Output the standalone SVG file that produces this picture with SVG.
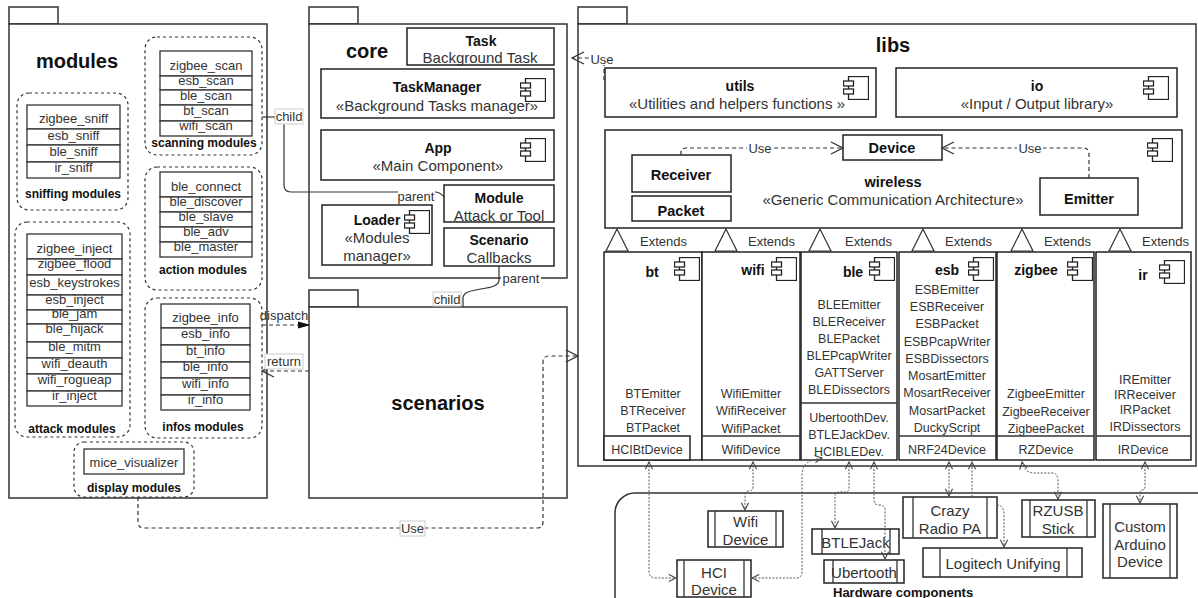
<svg xmlns="http://www.w3.org/2000/svg" xmlns:xlink="http://www.w3.org/1999/xlink" width="1198" height="598" viewBox="0 0 1198 598">
<style>
.pkg{fill:#fff;stroke:#333;stroke-width:1.5}
.box{fill:#fff;stroke:#222;stroke-width:1.5}
.grp{fill:none;stroke:#333;stroke-width:1.2;stroke-dasharray:3 3}
.cell{fill:#fff;stroke:#333;stroke-width:1.3}
.ln{fill:none;stroke:#333;stroke-width:1.3}
.t{font-family:"Liberation Sans",Arial,sans-serif;fill:#333;text-anchor:middle}
.s{text-anchor:start}
.c13{font-size:13px}
.c12{font-size:12.5px}
.c15{font-size:15px}
.b{font-weight:bold;fill:#111}
.b12{font-size:12px}
.b14{font-size:14px}
.b15{font-size:14.5px}
.big{font-size:20px;font-weight:bold;fill:#111}
.lab{fill:#fff;stroke:#ccc;stroke-width:1}
.use{fill:none;stroke:#333;stroke-width:1.2;stroke-dasharray:4 3}
.sol{fill:none;stroke:#333;stroke-width:1.2}
.dot{fill:none;stroke:#555;stroke-width:1;stroke-dasharray:2 1.5}
.hw{fill:#fff;stroke:#222;stroke-width:1.5}
.tri{fill:#fff;stroke:#333;stroke-width:1.2}
</style>
<defs>
<symbol id="comp" viewBox="0 0 26 24" width="26" height="24">
<rect x="5.5" y="0.5" width="20" height="23" fill="#fff" stroke="#222" stroke-width="1.3"/>
<rect x="0.5" y="5" width="10" height="5" fill="#fff" stroke="#222" stroke-width="1.3"/>
<rect x="0.5" y="13" width="10" height="5" fill="#fff" stroke="#222" stroke-width="1.3"/>
</symbol>
<marker id="useA" viewBox="0 0 14 14" refX="13" refY="7" markerWidth="14" markerHeight="14" markerUnits="userSpaceOnUse" orient="auto">
<path d="M1,1 L13,7 L1,13" fill="none" stroke="#333" stroke-width="1.2"/>
</marker>
<marker id="fillA" viewBox="0 0 12 8" refX="11" refY="4" markerWidth="12" markerHeight="8" markerUnits="userSpaceOnUse" orient="auto">
<path d="M0,1 L11,4 L0,7 Z" fill="#111" stroke="#111"/>
</marker>
<marker id="dotA" viewBox="0 0 10 10" refX="9" refY="5" markerWidth="9" markerHeight="9" markerUnits="userSpaceOnUse" orient="auto-start-reverse">
<path d="M1,1 L9,5 L1,9" fill="none" stroke="#444" stroke-width="1.2"/>
</marker>
</defs>

<!-- packages -->
<g id="pkg-modules">
<rect class="pkg" x="9" y="7" width="49" height="17"/>
<rect class="pkg" x="9" y="24" width="258" height="474"/>
<text class="t big" x="77" y="68">modules</text>
</g>
<g id="pkg-core">
<rect class="pkg" x="309" y="7" width="49" height="17"/>
<rect class="pkg" x="309" y="24" width="258" height="254"/>
<text class="t big" x="367" y="58">core</text>
</g>
<g id="pkg-scenarios">
<rect class="pkg" x="309" y="290" width="49" height="17"/>
<rect class="pkg" x="309" y="307" width="258" height="191"/>
<text class="t big" x="438" y="410">scenarios</text>
</g>
<g id="pkg-libs">
<rect class="pkg" x="578" y="7" width="49" height="17"/>
<rect class="pkg" x="578" y="24" width="618" height="442"/>
<text class="t big" x="893" y="52">libs</text>
</g>

<!-- module groups -->
<g id="scanning-modules">
<rect class="grp" x="145" y="37" width="117" height="118" rx="12"/>
<rect class="cell" x="160" y="51" width="92" height="25"/>
<rect class="cell" x="160" y="76" width="92" height="14"/>
<rect class="cell" x="160" y="90" width="92" height="15"/>
<rect class="cell" x="160" y="105" width="92" height="16"/>
<rect class="cell" x="160" y="121" width="92" height="15"/>
<text class="t c13" x="206" y="70">zigbee_scan</text>
<text class="t c13" x="206" y="85">esb_scan</text>
<text class="t c13" x="206" y="100">ble_scan</text>
<text class="t c13" x="206" y="115">bt_scan</text>
<text class="t c13" x="206" y="130">wifi_scan</text>
<text class="t b b12" x="204" y="147">scanning modules</text>
</g>
<g id="sniffing-modules">
<rect class="grp" x="17" y="93" width="111" height="117" rx="12"/>
<rect class="cell" x="27" y="105" width="93" height="24"/>
<rect class="cell" x="27" y="129" width="93" height="16"/>
<rect class="cell" x="27" y="145" width="93" height="17"/>
<rect class="cell" x="27" y="162" width="93" height="16"/>
<text class="t c13" x="73.5" y="123">zigbee_sniff</text>
<text class="t c13" x="73.5" y="140">esb_sniff</text>
<text class="t c13" x="73.5" y="156">ble_sniff</text>
<text class="t c13" x="73.5" y="172">ir_sniff</text>
<text class="t b b12" x="73" y="198">sniffing modules</text>
</g>
<g id="action-modules">
<rect class="grp" x="145" y="167" width="117" height="123" rx="12"/>
<rect class="cell" x="160" y="172" width="92" height="25"/>
<rect class="cell" x="160" y="197" width="92" height="15"/>
<rect class="cell" x="160" y="212" width="92" height="15"/>
<rect class="cell" x="160" y="227" width="92" height="15"/>
<rect class="cell" x="160" y="242" width="92" height="15"/>
<text class="t c13" x="206" y="191">ble_connect</text>
<text class="t c13" x="206" y="206">ble_discover</text>
<text class="t c13" x="206" y="221">ble_slave</text>
<text class="t c13" x="206" y="236">ble_adv</text>
<text class="t c13" x="206" y="251">ble_master</text>
<text class="t b b12" x="203" y="274">action modules</text>
</g>
<g id="attack-modules">
<rect class="grp" x="15" y="222" width="115" height="215" rx="12"/>
<rect class="cell" x="27" y="234" width="95" height="25"/>
<rect class="cell" x="27" y="259" width="95" height="16"/>
<rect class="cell" x="27" y="275" width="95" height="20"/>
<rect class="cell" x="27" y="295" width="95" height="15"/>
<rect class="cell" x="27" y="310" width="95" height="14"/>
<rect class="cell" x="27" y="324" width="95" height="18"/>
<rect class="cell" x="27" y="342" width="95" height="16"/>
<rect class="cell" x="27" y="358" width="95" height="16"/>
<rect class="cell" x="27" y="374" width="95" height="17"/>
<rect class="cell" x="27" y="391" width="95" height="15"/>
<text class="t c13" x="74.5" y="253">zigbee_inject</text>
<text class="t c13" x="74.5" y="268">zigbee_flood</text>
<text class="t c13" x="74.5" y="287">esb_keystrokes</text>
<text class="t c13" x="74.5" y="304">esb_inject</text>
<text class="t c13" x="74.5" y="318">ble_jam</text>
<text class="t c13" x="74.5" y="333">ble_hijack</text>
<text class="t c13" x="74.5" y="351">ble_mitm</text>
<text class="t c13" x="74.5" y="368">wifi_deauth</text>
<text class="t c13" x="74.5" y="384">wifi_rogueap</text>
<text class="t c13" x="74.5" y="400">ir_inject</text>
<text class="t b b12" x="72" y="433">attack modules</text>
</g>
<g id="infos-modules">
<rect class="grp" x="145" y="298" width="117" height="140" rx="12"/>
<rect class="cell" x="161" y="304" width="89" height="24"/>
<rect class="cell" x="161" y="328" width="89" height="17"/>
<rect class="cell" x="161" y="345" width="89" height="17"/>
<rect class="cell" x="161" y="362" width="89" height="16"/>
<rect class="cell" x="161" y="378" width="89" height="17"/>
<rect class="cell" x="161" y="395" width="89" height="15"/>
<text class="t c13" x="205.5" y="322">zigbee_info</text>
<text class="t c13" x="205.5" y="338">esb_info</text>
<text class="t c13" x="205.5" y="355">bt_info</text>
<text class="t c13" x="205.5" y="371">ble_info</text>
<text class="t c13" x="205.5" y="388">wifi_info</text>
<text class="t c13" x="205.5" y="404">ir_info</text>
<text class="t b b12" x="203" y="431">infos modules</text>
</g>
<g id="display-modules">
<rect class="grp" x="74" y="442" width="120" height="55" rx="10"/>
<rect class="cell" x="84" y="449" width="100" height="25"/>
<text class="t c13" x="134" y="467">mice_visualizer</text>
<text class="t b b12" x="134" y="492">display modules</text>
</g>

<!-- core contents -->
<g id="task">
<rect class="box" x="407" y="28" width="147" height="37"/>
<text class="t b b14" x="481" y="46">Task</text>
<text class="t c15" x="480" y="63">Background Task</text>
</g>
<g id="taskmanager">
<rect class="box" x="321" y="69" width="233" height="49"/>
<use href="#comp" x="520" y="78"/>
<text class="t b b14" x="437" y="92">TaskManager</text>
<text class="t c15" x="437" y="111">«Background Tasks manager»</text>
</g>
<g id="app">
<rect class="box" x="321" y="130" width="233" height="50"/>
<use href="#comp" x="520" y="138"/>
<text class="t b b14" x="438" y="153">App</text>
<text class="t c15" x="438" y="171">«Main Component»</text>
</g>
<g id="module">
<rect class="box" x="444" y="185" width="110" height="37"/>
<text class="t b b14" x="499" y="203">Module</text>
<text class="t c15" x="499" y="221">Attack or Tool</text>
</g>
<g id="scenario">
<rect class="box" x="444" y="228" width="110" height="38"/>
<text class="t b b14" x="499" y="245">Scenario</text>
<text class="t c15" x="499" y="263">Callbacks</text>
</g>
<g id="loader">
<rect class="box" x="322" y="205" width="110" height="60" stroke="#555"/>
<use href="#comp" x="404" y="210"/>
<text class="t b b14" x="377" y="225">Loader</text>
<text class="t c15" x="377" y="243">«Modules</text>
<text class="t c15" x="377" y="261">manager»</text>
</g>

<!-- libs contents -->
<g id="utils">
<rect class="box" x="605" y="68" width="271" height="49"/>
<use href="#comp" x="843" y="76"/>
<text class="t b b14" x="740" y="91">utils</text>
<text class="t c15" x="737" y="109">«Utilities and helpers functions »</text>
</g>
<g id="io">
<rect class="box" x="896" y="68" width="281" height="49"/>
<use href="#comp" x="1143" y="76"/>
<text class="t b b14" x="1037" y="91">io</text>
<text class="t c15" x="1037" y="109">«Input / Output library»</text>
</g>
<g id="wireless">
<rect class="box" x="605" y="130" width="577" height="98"/>
<use href="#comp" x="1147" y="138"/>
<text class="t b b15" x="893" y="187">wireless</text>
<text class="t c15" x="893" y="205">«Generic Communication Architecture»</text>
</g>
<g id="receiver">
<rect class="box" x="632" y="155" width="99" height="37"/>
<text class="t b b15" x="681" y="180">Receiver</text>
</g>
<g id="packet">
<rect class="box" x="632" y="196" width="99" height="25"/>
<text class="t b b15" x="681" y="216">Packet</text>
</g>
<g id="device">
<rect class="box" x="843" y="135" width="99" height="25"/>
<text class="t b b15" x="892" y="153">Device</text>
</g>
<g id="emitter">
<rect class="box" x="1040" y="178" width="98" height="37"/>
<text class="t b b15" x="1089" y="204">Emitter</text>
</g>

<g id="bt">
<rect class="box" x="604" y="252" width="98" height="208"/>
<use href="#comp" x="674" y="257"/>
<text class="t b b14" x="652" y="277">bt</text>
<text class="t c12" x="653" y="398">BTEmitter</text>
<text class="t c12" x="653" y="415">BTReceiver</text>
<text class="t c12" x="653" y="432">BTPacket</text>
<rect class="box" x="604" y="436" width="86" height="24"/>
<text class="t c12" x="647" y="454">HCIBtDevice</text>
</g>
<g id="wifi">
<rect class="box" x="702" y="252" width="98" height="208"/>
<use href="#comp" x="771" y="257"/>
<text class="t b b14" x="753" y="275">wifi</text>
<text class="t c12" x="751" y="398">WifiEmitter</text>
<text class="t c12" x="751" y="415">WifiReceiver</text>
<text class="t c12" x="751" y="433">WifiPacket</text>
<line class="ln" x1="702" y1="436" x2="800" y2="436"/>
<text class="t c12" x="751" y="454">WifiDevice</text>
</g>
<g id="ble">
<rect class="box" x="801" y="252" width="96" height="208"/>
<use href="#comp" x="869" y="257"/>
<text class="t b b14" x="853" y="277">ble</text>
<text class="t c12" x="849" y="309">BLEEmitter</text>
<text class="t c12" x="849" y="326">BLEReceiver</text>
<text class="t c12" x="849" y="343">BLEPacket</text>
<text class="t c12" x="849" y="360">BLEPcapWriter</text>
<text class="t c12" x="849" y="377">GATTServer</text>
<text class="t c12" x="849" y="394">BLEDissectors</text>
<line class="ln" x1="801" y1="403" x2="897" y2="403"/>
<text class="t c12" x="849" y="422">UbertoothDev.</text>
<text class="t c12" x="849" y="439">BTLEJackDev.</text>
<text class="t c12" x="849" y="456">HCIBLEDev.</text>
</g>
<g id="esb">
<rect class="box" x="899" y="252" width="97" height="208"/>
<use href="#comp" x="968" y="257"/>
<text class="t b b14" x="947" y="275">esb</text>
<text class="t c12" x="947" y="294">ESBEmitter</text>
<text class="t c12" x="947" y="311">ESBReceiver</text>
<text class="t c12" x="947" y="328">ESBPacket</text>
<text class="t c12" x="947" y="346">ESBPcapWriter</text>
<text class="t c12" x="947" y="363">ESBDissectors</text>
<text class="t c12" x="947" y="380">MosartEmitter</text>
<text class="t c12" x="947" y="397">MosartReceiver</text>
<text class="t c12" x="947" y="415">MosartPacket</text>
<text class="t c12" x="947" y="432">DuckyScript</text>
<line class="ln" x1="899" y1="436" x2="996" y2="436"/>
<text class="t c12" x="947" y="454">NRF24Device</text>
</g>
<g id="zigbee">
<rect class="box" x="997" y="252" width="97" height="208"/>
<use href="#comp" x="1067" y="257"/>
<text class="t b b14" x="1036" y="275">zigbee</text>
<text class="t c12" x="1046" y="398">ZigbeeEmitter</text>
<text class="t c12" x="1046" y="416">ZigbeeReceiver</text>
<text class="t c12" x="1046" y="433">ZigbeePacket</text>
<line class="ln" x1="997" y1="436" x2="1094" y2="436"/>
<text class="t c12" x="1046" y="454">RZDevice</text>
</g>
<g id="ir">
<rect class="box" x="1096" y="252" width="95" height="208"/>
<use href="#comp" x="1159" y="260"/>
<text class="t b b14" x="1143" y="280">ir</text>
<text class="t c12" x="1145" y="384">IREmitter</text>
<text class="t c12" x="1145" y="399">IRReceiver</text>
<text class="t c12" x="1145" y="414">IRPacket</text>
<text class="t c12" x="1145" y="431">IRDissectors</text>
<line class="ln" x1="1096" y1="436" x2="1191" y2="436"/>
<text class="t c12" x="1143" y="454">IRDevice</text>
</g>

<!-- hardware -->
<g id="hardware-components">
<rect x="615" y="493" width="620" height="160" rx="20" fill="none" stroke="#333" stroke-width="1.5"/>
<text class="t s b c13" x="833" y="597">Hardware components</text>
</g>
<g id="hw-wifi">
<rect class="hw" x="708" y="511" width="75" height="36"/>
<path class="ln" d="M715,511 V547 M776,511 V547"/>
<text class="t c15" x="745.5" y="527">Wifi</text>
<text class="t c15" x="745.5" y="545">Device</text>
</g>
<g id="hw-hci">
<rect class="hw" x="677" y="560" width="74" height="37"/>
<path class="ln" d="M684,560 V597 M744,560 V597"/>
<text class="t c15" x="714" y="578">HCI</text>
<text class="t c15" x="714" y="595">Device</text>
</g>
<g id="hw-btlejack">
<rect class="hw" x="812" y="529" width="87" height="25"/>
<path class="ln" d="M822,529 V554 M890,529 V554"/>
<text class="t c15" x="855.5" y="548">BTLEJack</text>
</g>
<g id="hw-ubertooth">
<rect class="hw" x="824" y="560" width="80" height="23"/>
<path class="ln" d="M833,560 V583 M897,560 V583"/>
<text class="t c15" x="864" y="578">Ubertooth</text>
</g>
<g id="hw-crazyradio">
<rect class="hw" x="903" y="497" width="94" height="41"/>
<path class="ln" d="M913,497 V538 M987,497 V538"/>
<text class="t c15" x="950" y="516">Crazy</text>
<text class="t c15" x="950" y="534">Radio PA</text>
</g>
<g id="hw-logitech">
<rect class="hw" x="923" y="548" width="159" height="29"/>
<path class="ln" d="M940,548 V577 M1067,548 V577"/>
<text class="t c15" x="1003" y="569">Logitech Unifying</text>
</g>
<g id="hw-rzusb">
<rect class="hw" x="1022" y="500" width="73" height="37"/>
<path class="ln" d="M1030,500 V537 M1087,500 V537"/>
<text class="t c15" x="1058" y="516">RZUSB</text>
<text class="t c15" x="1058" y="534">Stick</text>
</g>
<g id="hw-arduino">
<rect class="hw" x="1103" y="504" width="74" height="74"/>
<path class="ln" d="M1110,504 V578 M1170,504 V578"/>
<text class="t c15" x="1140" y="532">Custom</text>
<text class="t c15" x="1140" y="550">Arduino</text>
<text class="t c15" x="1140" y="567">Device</text>
</g>

<!-- connectors -->
<g id="connectors">
<!-- extends -->
<polygon class="tri" points="617,229 606,251 628,251"/>
<polygon class="tri" points="726,229 715,251 737,251"/>
<polygon class="tri" points="820,229 809,251 831,251"/>
<polygon class="tri" points="923,229 912,251 934,251"/>
<polygon class="tri" points="1022,229 1011,251 1033,251"/>
<polygon class="tri" points="1120,229 1109,251 1131,251"/>
<text class="t s c13" x="640" y="246">Extends</text>
<text class="t s c13" x="748" y="246">Extends</text>
<text class="t s c13" x="845" y="246">Extends</text>
<text class="t s c13" x="945" y="246">Extends</text>
<text class="t s c13" x="1044" y="246">Extends</text>
<text class="t s c13" x="1142" y="246">Extends</text>

<!-- use -->
<path class="use" d="M681,155 L681,153 Q681,148 686,148 L843,148" marker-end="url(#useA)"/>
<rect x="747" y="141" width="26" height="14" fill="#fff"/>
<text class="t c13" x="760" y="153">Use</text>
<path class="use" d="M1089,178 L1089,154 Q1089,148 1083,148 L942,148" marker-end="url(#useA)"/>
<rect x="1017" y="141" width="26" height="14" fill="#fff"/>
<text class="t c13" x="1030" y="153">Use</text>
<path class="use" d="M604,80 L604,63 Q604,58 599,58 L572,58" marker-end="url(#useA)"/>
<rect x="589" y="51" width="27" height="14" fill="#fff"/>
<text class="t c13" x="602" y="64">Use</text>
<path class="use" d="M138,497 L138,522 Q138,528 144,528 L537,528 Q543,528 543,522 L543,362 Q543,356 549,356 L578,356" marker-end="url(#useA)"/>
<rect class="lab" x="400" y="521" width="25" height="15"/>
<text class="t c13" x="412.5" y="533">Use</text>

<!-- dispatch / return -->
<path class="use" d="M262,325 L309,325" marker-end="url(#fillA)"/>
<text class="t c13" x="284" y="320">dispatch</text>
<path class="use" d="M309,371 L262,371" marker-end="url(#useA)"/>
<rect class="lab" x="265" y="354" width="38" height="15"/>
<text class="t c13" x="284" y="366">return</text>

<!-- child / parent -->
<path class="sol" d="M262,117 L276,117"/>
<path class="sol" d="M284,123 L284,185 Q284,192 291,192 L398,192"/>
<path class="sol" d="M435,192 Q440,192 444,197"/>
<rect class="lab" x="275" y="109" width="28" height="15"/>
<text class="t c13" x="289" y="121">child</text>
<text class="t c13" x="416" y="201">parent</text>
<path class="sol" d="M499,266 L499,280 C499,292 463,286 463,298 L463,307"/>
<rect x="501" y="271" width="40" height="13" fill="#fff"/>
<text class="t c13" x="521" y="283">parent</text>
<rect class="lab" x="433" y="292" width="28" height="14"/>
<text class="t c13" x="447" y="304">child</text>

<!-- hardware links -->
<path class="dot" d="M649,462 L649,571 Q649,578 656,578 L676,578" marker-start="url(#dotA)" marker-end="url(#dotA)"/>
<path class="dot" d="M753,462 L753,487 Q753,491 749,491 Q745,491 745,495 L745,510" marker-start="url(#dotA)" marker-end="url(#dotA)"/>
<path class="dot" d="M822,458 Q808,460 804,466 Q802,470 802,476 L802,572 Q802,578 796,578 L752,578" marker-start="url(#dotA)" marker-end="url(#dotA)"/>
<path class="dot" d="M849,462 L849,488 Q849,492 845,492 L839,492 Q835,492 835,496 L835,528" marker-start="url(#dotA)" marker-end="url(#dotA)"/>
<path class="dot" d="M874,462 L874,500 Q874,505 879,505 Q885,505 885,510 L885,559" marker-start="url(#dotA)" marker-end="url(#dotA)"/>
<path class="dot" d="M949,462 L949,496" marker-start="url(#dotA)" marker-end="url(#dotA)"/>
<path class="dot" d="M972,497 L972,462" marker-end="url(#dotA)"/>
<path class="dot" d="M997,505 Q1004,505 1004,515 L1004,547" marker-end="url(#dotA)"/>
<path class="dot" d="M1022,462 Q1024,473 1035,473 L1052,473 Q1058,473 1058,480 L1058,499" marker-start="url(#dotA)" marker-end="url(#dotA)"/>
<path class="dot" d="M1145,462 L1145,486 Q1145,490 1142,490 Q1140,490 1140,494 L1140,503" marker-start="url(#dotA)" marker-end="url(#dotA)"/>
</g>
</svg>
